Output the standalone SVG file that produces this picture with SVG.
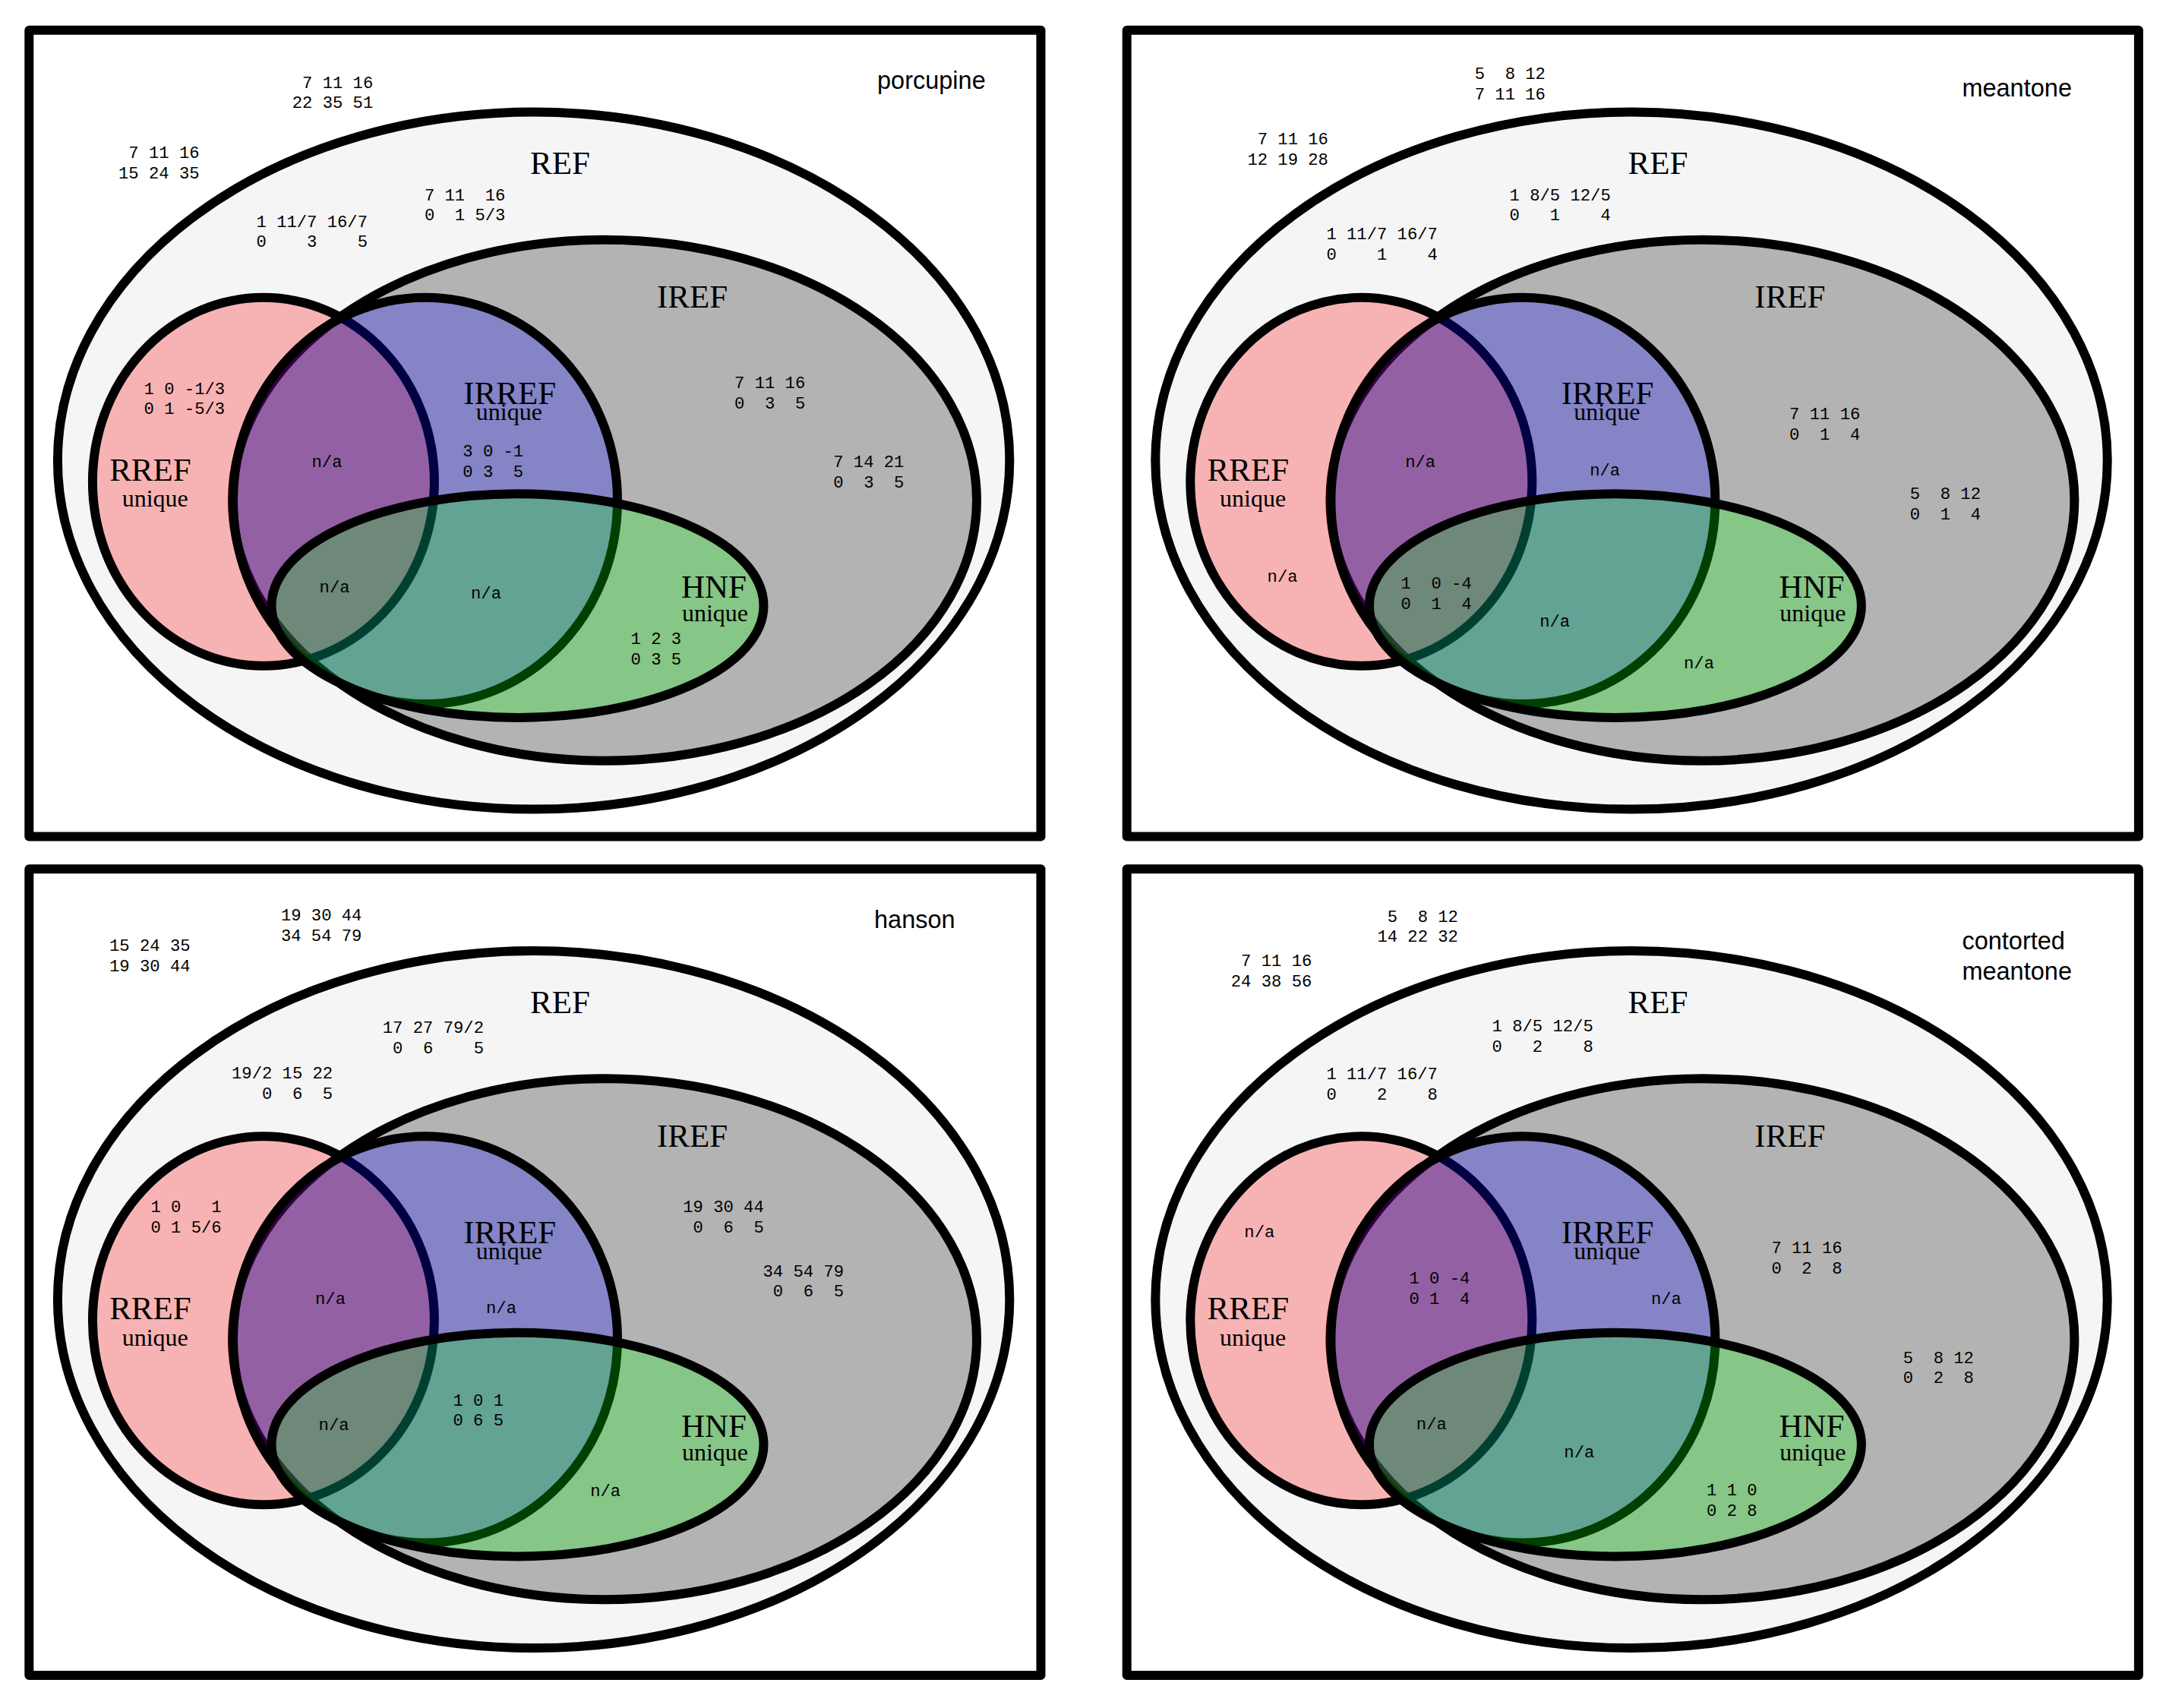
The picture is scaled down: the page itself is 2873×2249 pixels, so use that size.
<svg xmlns="http://www.w3.org/2000/svg" width="2873" height="2249" viewBox="0 0 2873 2249">
<style>
.bg{fill:#ffffff}
.frame{fill:#ffffff;stroke:#000;stroke-width:12;stroke-linejoin:round}
.set{stroke:#000;stroke-width:12}
.ref{fill:#f5f5f5}
.iref{fill:#b3b3b3}
.rref{fill:#ff0000;fill-opacity:0.265}
.irref{fill:#0000ff;fill-opacity:0.26}
.hnf{fill:#00ff00;fill-opacity:0.25}
.lbl{font-family:"Liberation Serif","Times New Roman",serif;font-size:43px;text-anchor:middle;fill:#000}
.uq{font-family:"Liberation Serif","Times New Roman",serif;font-size:32px;text-anchor:middle;fill:#000}
.name{font-family:"Liberation Sans",Arial,sans-serif;font-size:32.5px;fill:#000}
.m{font-family:"Liberation Mono","Courier New",monospace;font-size:22.2px;white-space:pre;fill:#000}
.c{text-anchor:middle}
</style>
<rect class="bg" x="0" y="0" width="2873" height="2249"/>

<!-- Panel 1: porcupine -->
<g id="panel-porcupine">
  <rect class="frame" x="38.3" y="39.7" width="1332.2" height="1061.8"/>
  <g id="p1-ref"><ellipse class="set ref" cx="702.6" cy="606.6" rx="626.7" ry="459"/><text class="lbl" x="737.5" y="229.3">REF</text></g>
  <g id="p1-iref"><ellipse class="set iref" cx="796" cy="658.7" rx="490" ry="343"/><text class="lbl" x="911.5" y="405.2">IREF</text></g>
  <g id="p1-rref"><ellipse class="set rref" cx="346.9" cy="634.3" rx="225" ry="242.5"/></g>
  <g id="p1-irref"><ellipse class="set irref" cx="560" cy="659.4" rx="253" ry="267.6"/></g>
  <g id="p1-hnf"><ellipse class="set hnf" cx="681.5" cy="797.6" rx="324" ry="147.3"/></g>
  <g id="p1-labels">
    <text class="lbl" x="671.2" y="532.3">IRREF</text><text class="uq" x="670.4" y="553.3">unique</text>
    <text class="lbl" x="197.9" y="632.7">RREF</text><text class="uq" x="204.2" y="667.3">unique</text>
    <text class="lbl" x="940" y="787.2">HNF</text><text class="uq" x="941.5" y="818.1">unique</text>
    <text class="name" x="1155" y="116.7">porcupine</text>
  </g>
  <g id="p1-data">
    <text class="m" x="384.7" y="115.7"> 7 11 16</text><text class="m" x="384.7" y="142.4">22 35 51</text>
    <text class="m" x="156" y="208.3"> 7 11 16</text><text class="m" x="156" y="235">15 24 35</text>
    <text class="m" x="558.9" y="263.6">7 11  16</text><text class="m" x="558.9" y="290.3">0  1 5/3</text>
    <text class="m" x="337.5" y="298.5">1 11/7 16/7</text><text class="m" x="337.5" y="325.2">0    3    5</text>
    <text class="m" x="189.6" y="518.5">1 0 -1/3</text><text class="m" x="189.6" y="545.2">0 1 -5/3</text>
    <text class="m" x="609.3" y="601">3 0 -1</text><text class="m" x="609.3" y="627.7">0 3  5</text>
    <text class="m c" x="430.5" y="615.4">n/a</text>
    <text class="m c" x="440.6" y="779.8">n/a</text>
    <text class="m c" x="640" y="787.7">n/a</text>
    <text class="m" x="830.6" y="848">1 2 3</text><text class="m" x="830.6" y="874.7">0 3 5</text>
    <text class="m" x="967" y="511.3">7 11 16</text><text class="m" x="967" y="538">0  3  5</text>
    <text class="m" x="1097.2" y="615.4">7 14 21</text><text class="m" x="1097.2" y="642.1">0  3  5</text>
  </g>
</g>

<!-- Panel 2: meantone -->
<g id="panel-meantone" transform="translate(1445.4,0)">
  <rect class="frame" x="38.3" y="39.7" width="1332.2" height="1061.8"/>
  <g id="p2-ref"><ellipse class="set ref" cx="702.6" cy="606.6" rx="626.7" ry="459"/><text class="lbl" x="737.5" y="229.3">REF</text></g>
  <g id="p2-iref"><ellipse class="set iref" cx="796" cy="658.7" rx="490" ry="343"/><text class="lbl" x="911.5" y="405.2">IREF</text></g>
  <g id="p2-rref"><ellipse class="set rref" cx="346.9" cy="634.3" rx="225" ry="242.5"/></g>
  <g id="p2-irref"><ellipse class="set irref" cx="560" cy="659.4" rx="253" ry="267.6"/></g>
  <g id="p2-hnf"><ellipse class="set hnf" cx="681.5" cy="797.6" rx="324" ry="147.3"/></g>
  <g id="p2-labels">
    <text class="lbl" x="671.2" y="532.3">IRREF</text><text class="uq" x="670.4" y="553.3">unique</text>
    <text class="lbl" x="197.9" y="632.7">RREF</text><text class="uq" x="204.2" y="667.3">unique</text>
    <text class="lbl" x="940" y="787.2">HNF</text><text class="uq" x="941.5" y="818.1">unique</text>
    <text class="name" x="1138" y="127">meantone</text>
  </g>
  <g id="p2-data">
    <text class="m" x="496.3" y="104.2">5  8 12</text><text class="m" x="496.3" y="130.9">7 11 16</text>
    <text class="m" x="197" y="190"> 7 11 16</text><text class="m" x="197" y="216.7">12 19 28</text>
    <text class="m" x="542.2" y="263.6">1 8/5 12/5</text><text class="m" x="542.2" y="290.3">0   1    4</text>
    <text class="m" x="301" y="315">1 11/7 16/7</text><text class="m" x="301" y="341.7">0    1    4</text>
    <text class="m c" x="243.2" y="765.5">n/a</text>
    <text class="m c" x="424.8" y="615.4">n/a</text>
    <text class="m c" x="667.8" y="625.5">n/a</text>
    <text class="m" x="399.1" y="774.8">1  0 -4</text><text class="m" x="399.1" y="801.5">0  1  4</text>
    <text class="m c" x="601.8" y="825.1">n/a</text>
    <text class="m c" x="791.6" y="879.6">n/a</text>
    <text class="m" x="910.7" y="552.2">7 11 16</text><text class="m" x="910.7" y="578.9">0  1  4</text>
    <text class="m" x="1069.4" y="657">5  8 12</text><text class="m" x="1069.4" y="683.7">0  1  4</text>
  </g>
</g>

<!-- Panel 3: hanson -->
<g id="panel-hanson" transform="translate(0,1104.5)">
  <rect class="frame" x="38.3" y="39.7" width="1332.2" height="1061.8"/>
  <g id="p3-ref"><ellipse class="set ref" cx="702.6" cy="606.6" rx="626.7" ry="459"/><text class="lbl" x="737.5" y="229.3">REF</text></g>
  <g id="p3-iref"><ellipse class="set iref" cx="796" cy="658.7" rx="490" ry="343"/><text class="lbl" x="911.5" y="405.2">IREF</text></g>
  <g id="p3-rref"><ellipse class="set rref" cx="346.9" cy="634.3" rx="225" ry="242.5"/></g>
  <g id="p3-irref"><ellipse class="set irref" cx="560" cy="659.4" rx="253" ry="267.6"/></g>
  <g id="p3-hnf"><ellipse class="set hnf" cx="681.5" cy="797.6" rx="324" ry="147.3"/></g>
  <g id="p3-labels">
    <text class="lbl" x="671.2" y="532.3">IRREF</text><text class="uq" x="670.4" y="553.3">unique</text>
    <text class="lbl" x="197.9" y="632.7">RREF</text><text class="uq" x="204.2" y="667.3">unique</text>
    <text class="lbl" x="940" y="787.2">HNF</text><text class="uq" x="941.5" y="818.1">unique</text>
    <text class="name" x="1151" y="117.3">hanson</text>
  </g>
  <g id="p3-data">
    <text class="m" x="144" y="147.8">15 24 35</text><text class="m" x="144" y="174.5">19 30 44</text>
    <text class="m" x="369.9" y="107.8">19 30 44</text><text class="m" x="369.9" y="134.5">34 54 79</text>
    <text class="m" x="503.8" y="255.7">17 27 79/2</text><text class="m" x="503.8" y="282.4"> 0  6    5</text>
    <text class="m" x="305" y="315.7">19/2 15 22</text><text class="m" x="305" y="342.4">   0  6  5</text>
    <text class="m" x="198.4" y="491.5">1 0   1</text><text class="m" x="198.4" y="518.2">0 1 5/6</text>
    <text class="m c" x="435" y="612.5">n/a</text>
    <text class="m c" x="660" y="624.7">n/a</text>
    <text class="m c" x="439.6" y="778.4">n/a</text>
    <text class="m" x="596.4" y="746.1">1 0 1</text><text class="m" x="596.4" y="772.8">0 6 5</text>
    <text class="m c" x="797.2" y="865.3">n/a</text>
    <text class="m" x="899.2" y="491.5">19 30 44</text><text class="m" x="899.2" y="518.2"> 0  6  5</text>
    <text class="m" x="1004.5" y="576.2">34 54 79</text><text class="m" x="1004.5" y="602.9"> 0  6  5</text>
  </g>
</g>

<!-- Panel 4: contorted meantone -->
<g id="panel-contorted-meantone" transform="translate(1445.4,1104.5)">
  <rect class="frame" x="38.3" y="39.7" width="1332.2" height="1061.8"/>
  <g id="p4-ref"><ellipse class="set ref" cx="702.6" cy="606.6" rx="626.7" ry="459"/><text class="lbl" x="737.5" y="229.3">REF</text></g>
  <g id="p4-iref"><ellipse class="set iref" cx="796" cy="658.7" rx="490" ry="343"/><text class="lbl" x="911.5" y="405.2">IREF</text></g>
  <g id="p4-rref"><ellipse class="set rref" cx="346.9" cy="634.3" rx="225" ry="242.5"/></g>
  <g id="p4-irref"><ellipse class="set irref" cx="560" cy="659.4" rx="253" ry="267.6"/></g>
  <g id="p4-hnf"><ellipse class="set hnf" cx="681.5" cy="797.6" rx="324" ry="147.3"/></g>
  <g id="p4-labels">
    <text class="lbl" x="671.2" y="532.3">IRREF</text><text class="uq" x="670.4" y="553.3">unique</text>
    <text class="lbl" x="197.9" y="632.7">RREF</text><text class="uq" x="204.2" y="667.3">unique</text>
    <text class="lbl" x="940" y="787.2">HNF</text><text class="uq" x="941.5" y="818.1">unique</text>
    <text class="name" x="1138" y="145">contorted</text>
    <text class="name" x="1138" y="185">meantone</text>
  </g>
  <g id="p4-data">
    <text class="m" x="368" y="109.2"> 5  8 12</text><text class="m" x="368" y="135.9">14 22 32</text>
    <text class="m" x="175.4" y="167.4"> 7 11 16</text><text class="m" x="175.4" y="194.1">24 38 56</text>
    <text class="m" x="519.2" y="253.5">1 8/5 12/5</text><text class="m" x="519.2" y="280.2">0   2    8</text>
    <text class="m" x="301" y="316.7">1 11/7 16/7</text><text class="m" x="301" y="343.4">0    2    8</text>
    <text class="m c" x="212.9" y="524.2">n/a</text>
    <text class="m" x="410.1" y="585.3">1 0 -4</text><text class="m" x="410.1" y="612">0 1  4</text>
    <text class="m c" x="748.5" y="612.5">n/a</text>
    <text class="m c" x="439.4" y="777.7">n/a</text>
    <text class="m c" x="633.9" y="814.3">n/a</text>
    <text class="m" x="801.7" y="864.6">1 1 0</text><text class="m" x="801.7" y="891.3">0 2 8</text>
    <text class="m" x="887" y="545.8">7 11 16</text><text class="m" x="887" y="572.5">0  2  8</text>
    <text class="m" x="1060.3" y="690.1">5  8 12</text><text class="m" x="1060.3" y="716.8">0  2  8</text>
  </g>
</g>
</svg>
